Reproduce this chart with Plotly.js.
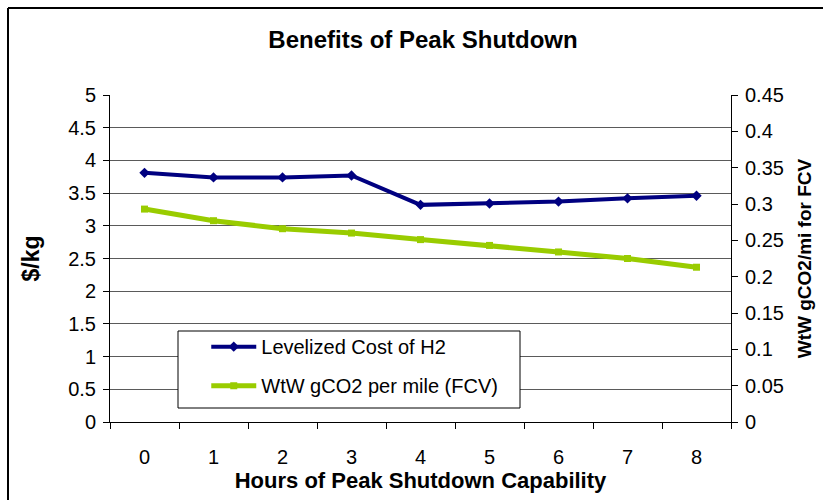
<!DOCTYPE html>
<html>
<head>
<meta charset="utf-8">
<script src="https://cdn.plot.ly/plotly-3.0.1.min.js"></script>
<style>html,body{margin:0;padding:0;background:#fff;}#chart{width:823px;height:500px;}</style>
</head>
<body>
<div id="chart"></div>
<script>
const hours = ["0","1","2","3","4","5","6","7","8"];
const costH2 = [3.81, 3.74, 3.74, 3.77, 3.32, 3.34, 3.37, 3.42, 3.46];
const co2PerMile = [0.293, 0.277, 0.266, 0.260, 0.251, 0.243, 0.234, 0.225, 0.213];
const leftTicks = [0, 0.5, 1, 1.5, 2, 2.5, 3, 3.5, 4, 4.5, 5];
const rightTicks = [0, 0.05, 0.1, 0.15, 0.2, 0.25, 0.3, 0.35, 0.4, 0.45];

const FONT = "Liberation Sans, Arial, sans-serif";

const traces = [
  {
    x: hours, y: costH2, name: "Levelized Cost of H2", type: "scatter", mode: "lines+markers",
    line: {color: "#000080", width: 4}, marker: {symbol: "diamond", size: 8, color: "#000080"},
    yaxis: "y", legendgroup: "a"
  },
  {
    x: hours, y: co2PerMile, name: "WtW gCO2 per mile (FCV)", type: "scatter", mode: "lines+markers",
    line: {color: "#99CC00", width: 5}, marker: {symbol: "square", size: 7, color: "#99CC00"},
    yaxis: "y2", legendgroup: "b"
  }
];

const layout = {
  width: 823, height: 500,
  margin: {l: 110, r: 92, t: 95, b: 78, pad: 0},
  paper_bgcolor: "#ffffff", plot_bgcolor: "#ffffff",
  font: {family: FONT, color: "#000", size: 20},
  title: {text: "<b>Benefits of Peak Shutdown</b>", font: {family: FONT, size: 24, color: "#000"},
          x: 0.514, xanchor: "center", y: 0.92, yref: "container", yanchor: "middle"},
  showlegend: true,
  legend: {x: 0.155, y: 0.29, xanchor: "left", yanchor: "top", bgcolor: "rgba(0,0,0,0)",
           borderwidth: 0, font: {family: FONT, size: 20, color: "#000"},
           traceorder: "grouped", tracegroupgap: 10, itemwidth: 45},
  xaxis: {
    type: "category", range: [-0.5, 8.5], tickson: "boundaries",
    showline: true, linecolor: "#000", linewidth: 1, mirror: false,
    ticks: "outside", ticklen: 6, tickcolor: "#000", tickwidth: 1,
    showgrid: false, zeroline: false, ticklabelstandoff: 17,
    tickfont: {family: FONT, size: 20},
    title: {text: "<b>Hours of Peak Shutdown Capability</b>", font: {family: FONT, size: 22}, standoff: 0},
    automargin: false, fixedrange: true
  },
  yaxis: {
    range: [0, 5], tickvals: leftTicks, ticktext: leftTicks.map(String),
    showline: true, linecolor: "#000", linewidth: 1,
    ticks: "outside", ticklen: 6, tickcolor: "#000",
    showgrid: true, gridcolor: "#5a5a5a", gridwidth: 1, zeroline: false,
    tickfont: {family: FONT, size: 20}, ticklabelstandoff: 3,
    title: {text: "<b>$/kg</b>", font: {family: FONT, size: 23}, standoff: 22},
    automargin: false, fixedrange: true
  },
  yaxis2: {
    overlaying: "y", side: "right", range: [0, 0.45], tickvals: rightTicks, ticktext: rightTicks.map(String),
    showline: true, linecolor: "#000", linewidth: 1,
    ticks: "outside", ticklen: 6, tickcolor: "#000",
    showgrid: false, zeroline: false,
    tickfont: {family: FONT, size: 20}, ticklabelstandoff: 3,
    title: {text: "<b>WtW gCO2/mi for FCV</b>", font: {family: FONT, size: 19}, standoff: 14},
    automargin: false, fixedrange: true
  },
  shapes: [
    {type: "rect", xref: "paper", yref: "paper", x0: (178-110)/621, x1: (520-110)/621,
     y0: (422-408)/327, y1: (422-331)/327, line: {color: "#000", width: 1}, fillcolor: "#fff", layer: "above"},
    {type: "line", xref: "paper", yref: "paper", x0: (8-110)/621, x1: (823-110)/621,
     y0: (422-8)/327, y1: (422-8)/327, line: {color: "#000", width: 2}},
    {type: "line", xref: "paper", yref: "paper", x0: (8-110)/621, x1: (8-110)/621,
     y0: (422-8)/327, y1: (422-500)/327, line: {color: "#000", width: 2}}
  ]
};

Plotly.newPlot("chart", traces, layout, {staticPlot: true, displayModeBar: false});
</script>
</body>
</html>
